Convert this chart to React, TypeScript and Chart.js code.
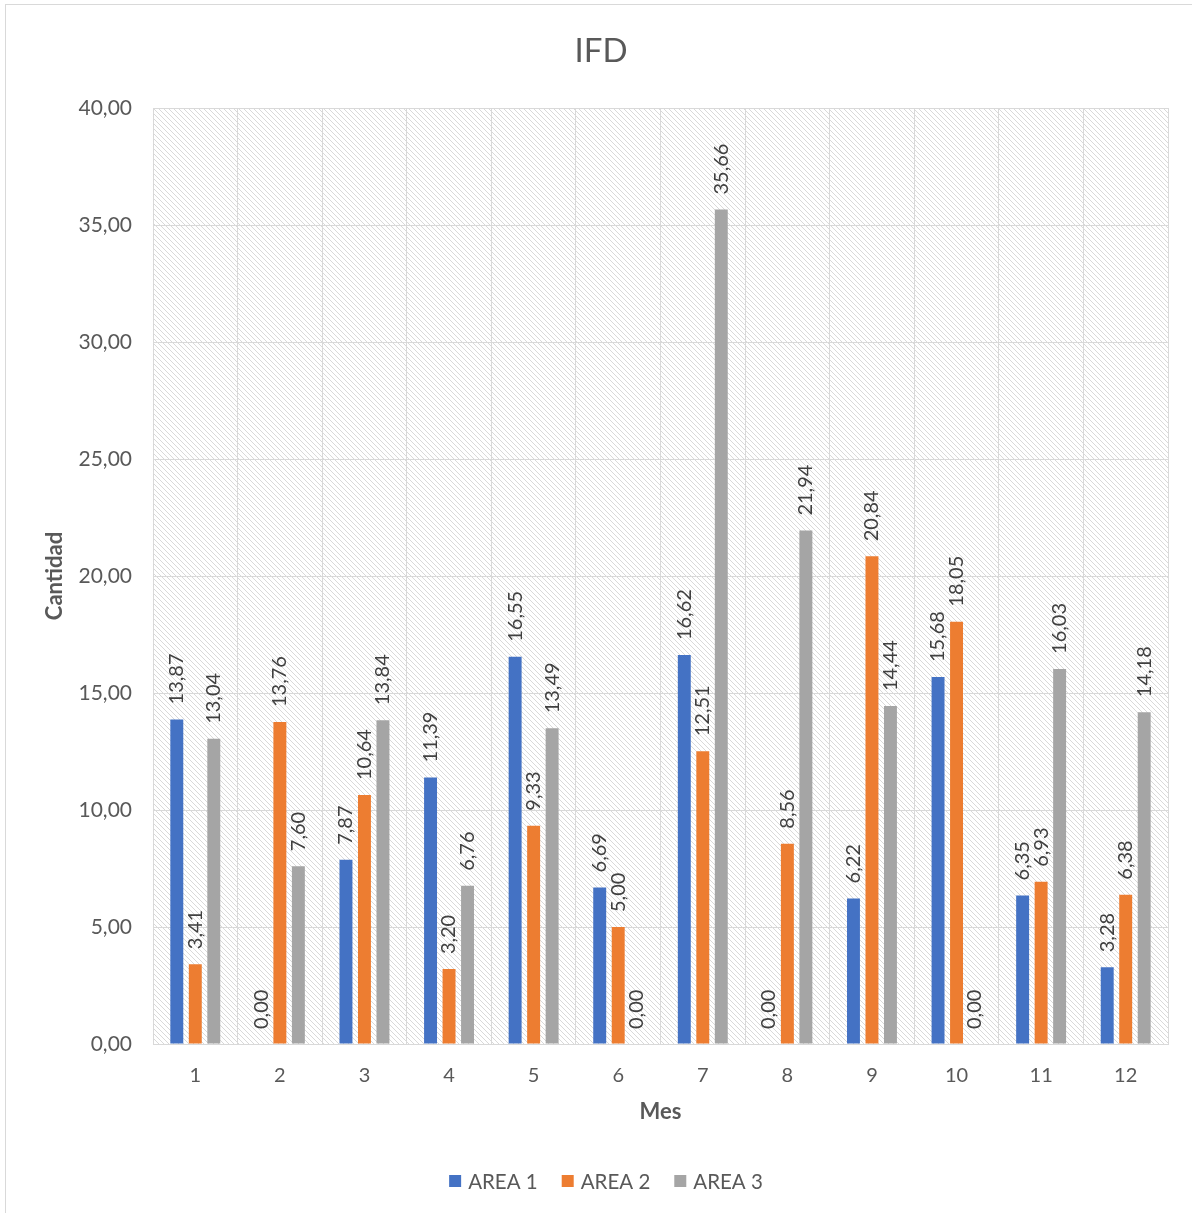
import React, { useEffect, useRef } from "react";
import { Chart, registerables } from "chart.js";

Chart.register(...registerables);

const months = ["1", "2", "3", "4", "5", "6", "7", "8", "9", "10", "11", "12"];
const area1 = [13.87, 0, 7.87, 11.39, 16.55, 6.69, 16.62, 0, 6.22, 15.68, 6.35, 3.28];
const area2 = [3.41, 13.76, 10.64, 3.2, 9.33, 5.0, 12.51, 8.56, 20.84, 18.05, 6.93, 6.38];
const area3 = [13.04, 7.6, 13.84, 6.76, 13.49, 0, 35.66, 21.94, 14.44, 0, 16.03, 14.18];
const seriesNames = ["AREA 1", "AREA 2", "AREA 3"];
const seriesColors = ["#4472C4", "#ED7D31", "#A5A5A5"];
const chartTitle = "IFD";
const yTitle = "Cantidad";
const xTitle = "Mes";

const FONT = "Lato, 'Open Sans', sans-serif";
const fmt = (v: number) => v.toFixed(2).replace(".", ",");

function makePattern(ctx: CanvasRenderingContext2D) {
  const t = document.createElement("canvas");
  const n = 5;
  t.width = n;
  t.height = n;
  const c = t.getContext("2d")!;
  c.fillStyle = "#ffffff";
  c.fillRect(0, 0, n, n);
  c.fillStyle = "#d9d9d9";
  for (let i = 0; i < n; i++) c.fillRect(i, i, 1, 1);
  return ctx.createPattern(t, "repeat")!;
}

const decorPlugin = {
  id: "decor",
  beforeDraw(chart: any) {
    const { ctx, chartArea: a } = chart;
    ctx.save();
    ctx.fillStyle = "#ffffff";
    ctx.fillRect(0, 0, chart.width, chart.height);
    ctx.fillStyle = makePattern(ctx);
    ctx.fillRect(a.left, a.top, a.right - a.left, a.bottom - a.top);
    ctx.strokeStyle = "#d9d9d9";
    ctx.lineWidth = 1;
    ctx.strokeRect(5.5, 4.5, chart.width + 20, chart.height + 20);
    ctx.fillStyle = "#595959";
    ctx.font = `33px ${FONT}`;
    ctx.textAlign = "center";
    ctx.textBaseline = "middle";
    ctx.fillText(chartTitle, 601, 51);
    ctx.restore();
  },
  afterDatasetsDraw(chart: any) {
    const { ctx } = chart;
    ctx.save();
    ctx.fillStyle = "#404040";
    ctx.font = `20px ${FONT}`;
    ctx.textAlign = "left";
    ctx.textBaseline = "middle";
    chart.data.datasets.forEach((ds: any, di: number) => {
      const meta = chart.getDatasetMeta(di);
      meta.data.forEach((bar: any, i: number) => {
        const v = ds.data[i];
        ctx.save();
        ctx.translate(bar.x, bar.y - 15);
        ctx.rotate(-Math.PI / 2);
        ctx.fillText(fmt(v), 0, 0);
        ctx.restore();
      });
    });
    ctx.font = `20.5px ${FONT}`;
    const box = 12;
    const gap = 7;
    const spacing = 24;
    const widths = seriesNames.map((s) => box + gap + ctx.measureText(s).width);
    const total = widths.reduce((p, w) => p + w, 0) + spacing * (seriesNames.length - 1);
    let x = 606 - total / 2;
    const y = 1181;
    seriesNames.forEach((s, i) => {
      ctx.fillStyle = seriesColors[i];
      ctx.fillRect(x, y - box / 2, box, box);
      ctx.fillStyle = "#595959";
      ctx.textAlign = "left";
      ctx.fillText(s, x + box + gap, y + 1);
      x += widths[i] + spacing;
    });
    ctx.restore();
  },
};

export default function App() {
  const ref = useRef<HTMLCanvasElement>(null);
  useEffect(() => {
    const chart = new Chart(ref.current!, {
      type: "bar",
      data: {
        labels: months,
        datasets: [area1, area2, area3].map((d, i) => ({
          label: seriesNames[i],
          data: d,
          backgroundColor: seriesColors[i],
          borderWidth: 0,
          categoryPercentage: 0.656,
          barPercentage: 0.7,
        })),
      },
      options: {
        responsive: false,
        animation: false,
        devicePixelRatio: 1,
        layout: { padding: { top: 108, left: 38, right: 24, bottom: 84 } },
        plugins: { legend: { display: false }, title: { display: false }, tooltip: { enabled: false } },
        scales: {
          x: {
            offset: true,
            grid: { offset: true, color: "#d9d9d9", drawTicks: false },
            border: { color: "#d9d9d9" },
            ticks: { color: "#595959", font: { family: FONT, size: 20 }, padding: 20 },
            title: { display: true, text: xTitle, color: "#595959", font: { family: FONT, size: 22, weight: "bold" } },
            afterFit: (s: any) => { s.height = 85; },
          },
          y: {
            min: 0,
            max: 40,
            grid: { color: "#d9d9d9", drawTicks: false },
            border: { color: "#d9d9d9" },
            ticks: {
              stepSize: 5,
              color: "#595959",
              font: { family: FONT, size: 21 },
              padding: 21,
              callback: (v: any) => fmt(Number(v)),
            },
            title: { display: true, text: yTitle, color: "#595959", font: { family: FONT, size: 22, weight: "bold" } },
            afterFit: (s: any) => { s.width = 115; },
          },
        },
      },
      plugins: [decorPlugin],
    } as any);
    return () => chart.destroy();
  }, []);
  return (
    <div style={{ position: "absolute", left: 0, top: 0, width: 1192, height: 1213, background: "#fff" }}>
      <canvas ref={ref} width={1192} height={1213} style={{ display: "block", width: 1192, height: 1213 }} />
    </div>
  );
}
